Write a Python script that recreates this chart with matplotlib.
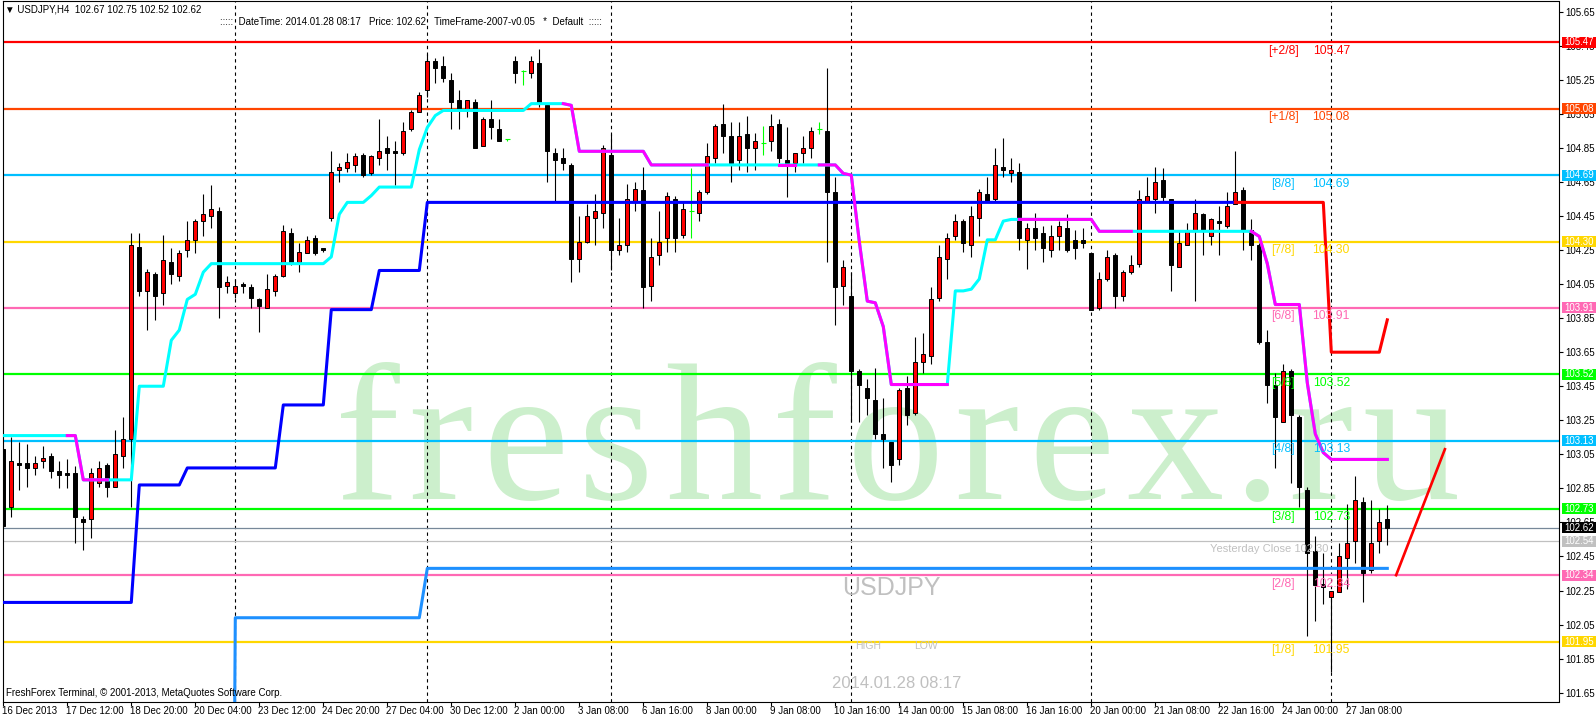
import numpy as np
import matplotlib
matplotlib.use('Agg')
import matplotlib.pyplot as plt
import matplotlib.transforms as mtransforms
from matplotlib.patches import Rectangle
from matplotlib.font_manager import FontProperties

plt.rcParams['font.family'] = ['Liberation Sans', 'DejaVu Sans']

# ---------------- data ----------------
opens = [103.08, 102.74, 103.00, 103.00, 102.97, 103.01, 103.04, 102.95, 102.94, 102.94,
         102.67, 102.67, 102.88, 102.99, 102.86, 103.04, 103.14, 104.27, 104.01, 104.11,
         104.00, 104.18, 104.10, 104.25, 104.31, 104.42, 104.45, 104.48, 104.04, 104.00,
         104.05, 104.03, 103.96, 103.91, 104.01, 104.10, 104.35, 104.18, 104.23, 104.32,
         104.26, 104.44, 104.72, 104.73, 104.75, 104.81, 104.70, 104.79, 104.85, 104.83,
         104.82, 104.96, 105.06, 105.19, 105.36, 105.33, 105.25, 105.13, 105.08, 105.12,
         104.86, 105.02, 104.96, 104.90, 105.36, 105.30, 105.29, 105.35, 105.10, 104.82,
         104.79, 104.75, 104.20, 104.30, 104.44, 104.47, 104.81, 104.25, 104.28, 104.53,
         104.60, 104.04, 104.22, 104.32, 104.55, 104.34, 104.48, 104.47, 104.59, 104.79,
         104.99, 104.92, 104.78, 104.93, 104.85, 104.88, 104.89, 104.99, 104.78, 104.76,
         104.82, 104.85, 104.96, 104.95, 104.59, 104.04, 103.98, 103.54, 103.44, 103.37,
         103.17, 103.12, 103.02, 103.44, 103.29, 103.59, 103.63, 103.97, 104.20, 104.33,
         104.42, 104.28, 104.44, 104.58, 104.55, 104.74, 104.70, 104.71, 104.31, 104.38,
         104.35, 104.25, 104.33, 104.38, 104.31, 104.31, 104.23, 103.91, 104.08, 104.22,
         103.98, 104.12, 104.17, 104.54, 104.55, 104.66, 104.55, 104.15, 104.28, 104.36,
         104.46, 104.33, 104.42, 104.39, 104.52, 104.60, 104.37, 104.28, 103.71, 103.46,
         103.24, 103.54, 103.27, 102.84, 102.48, 102.29, 102.21, 102.24, 102.44, 102.54,
         102.77, 102.37, 102.54, 102.67]
highs = [103.08, 103.15, 103.12, 103.11, 103.04, 103.10, 103.06, 103.01, 103.02, 102.98,
         102.69, 102.97, 103.01, 103.00, 103.19, 103.27, 104.35, 104.35, 104.14, 104.12,
         104.34, 104.26, 104.25, 104.42, 104.43, 104.58, 104.63, 104.50, 104.10, 104.08,
         104.06, 104.05, 103.97, 104.11, 104.11, 104.40, 104.38, 104.29, 104.33, 104.34,
         104.26, 104.83, 104.76, 104.82, 104.82, 104.82, 104.81, 105.02, 104.92, 104.89,
         105.00, 105.07, 105.18, 105.40, 105.38, 105.39, 105.29, 105.19, 105.13, 105.14,
         105.03, 105.13, 105.02, 104.90, 105.39, 105.31, 105.39, 105.43, 105.10, 104.85,
         104.85, 104.76, 104.45, 104.52, 104.58, 104.87, 104.93, 104.44, 104.64, 104.65,
         104.74, 104.32, 104.48, 104.59, 104.57, 104.54, 104.73, 104.60, 104.88, 104.99,
         105.11, 105.00, 105.00, 105.04, 104.94, 104.98, 105.05, 105.02, 104.97, 104.82,
         104.92, 104.97, 105.00, 105.32, 104.68, 104.19, 104.12, 103.55, 103.49, 103.56,
         103.38, 103.12, 103.44, 103.51, 103.74, 103.76, 104.03, 104.28, 104.35, 104.46,
         104.43, 104.51, 104.61, 104.68, 104.85, 104.91, 104.79, 104.76, 104.41, 104.47,
         104.39, 104.40, 104.42, 104.46, 104.37, 104.38, 104.23, 104.12, 104.25, 104.23,
         104.13, 104.22, 104.60, 104.68, 104.74, 104.73, 104.55, 104.37, 104.41, 104.55,
         104.47, 104.44, 104.51, 104.59, 104.83, 104.62, 104.43, 104.29, 103.78, 103.53,
         103.58, 103.55, 103.28, 102.86, 102.57, 102.47, 102.25, 102.53, 102.76, 102.92,
         102.80, 102.78, 102.73, 102.75]
lows = [102.62, 102.68, 102.84, 102.86, 102.93, 102.97, 102.91, 102.85, 102.85, 102.53,
        102.49, 102.56, 102.86, 102.80, 102.86, 102.97, 102.74, 103.98, 103.78, 103.84,
        103.93, 104.05, 104.07, 104.21, 104.23, 104.33, 104.38, 103.85, 104.00, 103.97,
        104.00, 103.91, 103.77, 103.91, 103.98, 104.09, 104.16, 104.12, 104.23, 104.22,
        104.24, 104.42, 104.65, 104.71, 104.71, 104.68, 104.69, 104.75, 104.72, 104.63,
        104.81, 104.95, 105.06, 105.15, 105.23, 105.24, 104.96, 104.96, 105.03, 104.85,
        104.86, 104.90, 104.89, 104.89, 105.23, 105.22, 105.26, 105.09, 104.65, 104.54,
        104.72, 104.06, 104.12, 104.29, 104.28, 104.38, 104.13, 104.22, 104.24, 104.48,
        103.91, 103.95, 104.16, 104.24, 104.24, 104.32, 104.32, 104.42, 104.58, 104.76,
        104.82, 104.65, 104.72, 104.71, 104.72, 104.81, 104.83, 104.76, 104.56, 104.71,
        104.76, 104.79, 104.93, 104.18, 103.81, 103.93, 103.24, 103.24, 103.28, 103.14,
        102.97, 102.89, 102.99, 103.22, 103.28, 103.53, 103.58, 103.95, 104.08, 104.31,
        104.24, 104.21, 104.33, 104.54, 104.54, 104.68, 104.65, 104.25, 104.14, 104.25,
        104.18, 104.21, 104.25, 104.24, 104.20, 104.26, 103.90, 103.90, 104.07, 103.91,
        103.95, 104.11, 104.15, 104.54, 104.47, 104.53, 104.01, 104.15, 104.28, 103.95,
        104.22, 104.28, 104.22, 104.38, 104.52, 104.25, 104.19, 103.70, 103.35, 102.97,
        103.24, 102.88, 102.74, 101.98, 102.07, 102.17, 101.77, 102.24, 102.26, 102.41,
        102.18, 102.35, 102.47, 102.52]
closes = [102.63, 103.01, 102.99, 102.97, 103.00, 103.03, 102.95, 102.93, 102.93, 102.68,
          102.65, 102.94, 102.97, 102.86, 103.05, 103.14, 104.28, 104.01, 104.12, 103.98,
          104.19, 104.11, 104.23, 104.31, 104.42, 104.46, 104.49, 104.03, 104.06, 104.04,
          104.04, 103.97, 103.92, 104.02, 104.10, 104.36, 104.18, 104.24, 104.31, 104.23,
          104.25, 104.71, 104.74, 104.77, 104.80, 104.69, 104.80, 104.83, 104.82, 104.82,
          104.95, 105.06, 105.16, 105.36, 105.32, 105.26, 105.12, 105.08, 105.13, 104.85,
          105.02, 104.97, 104.89, 104.90, 105.29, 105.30, 105.36, 105.11, 104.83, 104.78,
          104.76, 104.20, 104.30, 104.45, 104.48, 104.85, 104.25, 104.28, 104.55, 104.61,
          104.03, 104.21, 104.30, 104.57, 104.32, 104.49, 104.48, 104.59, 104.80, 104.98,
          104.92, 104.76, 104.92, 104.85, 104.89, 104.88, 104.98, 104.79, 104.76, 104.82,
          104.85, 104.95, 104.96, 104.59, 104.03, 104.15, 103.54, 103.46, 103.38, 103.17,
          103.14, 102.99, 103.43, 103.28, 103.59, 103.64, 103.96, 104.21, 104.32, 104.42,
          104.29, 104.45, 104.59, 104.54, 104.75, 104.72, 104.72, 104.32, 104.38, 104.32,
          104.26, 104.33, 104.39, 104.25, 104.26, 104.29, 103.90, 104.08, 104.21, 103.98,
          104.12, 104.16, 104.55, 104.57, 104.65, 104.56, 104.16, 104.29, 104.37, 104.47,
          104.36, 104.43, 104.41, 104.51, 104.59, 104.37, 104.28, 103.71, 103.46, 103.27,
          103.54, 103.28, 102.86, 102.47, 102.28, 102.27, 102.25, 102.45, 102.53, 102.78,
          102.35, 102.53, 102.65, 102.62]

# smoothed trend line (cyan up / magenta down), one value per bar
trend_fast = ([103.16] * 10 + [102.90] * 7 + [103.45] * 4 +
              [103.72, 103.78, 103.96, 103.99, 104.12] + [104.17] * 15 +
              [104.21, 104.46] + [104.53] * 3 + [104.57] + [104.62] * 5 +
              [104.84, 104.97, 105.04] + [105.07] * 11 + [105.11] * 5 + [105.10] +
              [104.83] * 9 + [104.75] * 24 + [104.70, 104.69, 104.30, 103.95, 103.94, 103.80] +
              [103.46] * 8 + [104.01, 104.01, 104.02, 104.08, 104.31, 104.31, 104.42] +
              [104.43] * 11 + [104.36] * 20 + [104.33, 104.17] + [103.93] * 4 +
              [103.47, 103.17, 103.06] + [103.02] * 8)
# segments drawn magenta (start bar, end bar); the rest cyan
fast_down = [(8, 13), (70, 88), (97, 99), (102, 118), (127, 141), (156, 173)]

# slow trend line: blue while rising, red after the turn
trend_slow_up = ([102.18] * 17 + [102.87] * 6 + [102.97] * 12 + [103.34] * 6 +
                 [103.90] * 6 + [104.13] * 6 + [104.53] * 102)
slow_turn = 154
trend_slow_down = [104.53] * 12 + [103.65] * 7 + [103.84]

# support line (dodger blue)
support_start = 28
support_line = [95.0] + [102.09] * 24 + [102.38] * 121

# projection line at the right
proj_bars = [174.1, 180.2]
proj_prices = [102.34, 103.08]

# Murrey math levels
mm_levels = [105.47, 105.08, 104.69, 104.30, 103.91, 103.52, 103.13, 102.73, 102.34, 101.95]
mm_names = ['[+2/8]', '[+1/8]', '[8/8]', '[7/8]', '[6/8]', '[5/8]', '[4/8]', '[3/8]', '[2/8]', '[1/8]']
mm_colors = ['#FF0000', '#FF4500', '#00BFFF', '#FFD700', '#FF69B4', '#00FF00',
             '#00BFFF', '#00FF00', '#FF69B4', '#FFD700']

bid_price = 102.62
day_open = 102.54
yesterday_close = 102.30

separator_bars = [29, 53, 76, 106, 136, 166]

xtick_labels = ['16 Dec 2013', '17 Dec 12:00', '18 Dec 20:00', '20 Dec 04:00', '23 Dec 12:00',
                '24 Dec 20:00', '27 Dec 04:00', '30 Dec 12:00', '2 Jan 00:00', '3 Jan 08:00',
                '6 Jan 16:00', '8 Jan 00:00', '9 Jan 08:00', '10 Jan 16:00', '14 Jan 00:00',
                '15 Jan 08:00', '16 Jan 16:00', '20 Jan 00:00', '21 Jan 08:00', '22 Jan 16:00',
                '24 Jan 00:00', '27 Jan 08:00']
ytick_values = [101.65, 101.85, 102.05, 102.25, 102.45, 102.65, 102.85, 103.05, 103.25,
                103.45, 103.65, 103.85, 104.05, 104.25, 104.45, 104.65, 104.85, 105.05,
                105.25, 105.45, 105.65]

watermark = 'freshforex.ru'

# ---------------- figure ----------------
W, H = 1596, 720
fig = plt.figure(figsize=(W / 100, H / 100), dpi=100, facecolor='white')
ax = fig.add_axes([2.5 / W, (H - 702) / H, (1558.5 - 2.5) / W, (702 - 1) / H])
ax.set_facecolor('white')
ax.set_xlim(-0.1, 194.4)
ax.set_ylim(101.595, 105.713)

n = len(opens)
x = np.arange(n)
o = np.array(opens); h = np.array(highs); l = np.array(lows); c = np.array(closes)

# watermark: letters spread to match the reference's wide lettering
renderer = fig.canvas.get_renderer()
wm_fp = FontProperties(family='Liberation Serif', size=140)
def _tw(s):
    return renderer.get_text_width_height_descent(s, wm_fp, ismath=False)[0] if s else 0.0
wm_nat = _tw(watermark)
wm_left_px, wm_width_px = 331.0, 1135.0
stretch = wm_width_px / wm_nat
for k, ch in enumerate(watermark):
    cx_px = wm_left_px + stretch * (_tw(watermark[:k]) + _tw(ch) / 2.0)
    ax.text((cx_px - 3.3) / 8.0, 102.785, ch, fontproperties=wm_fp, color='#CCEFCC',
            ha='center', va='baseline', zorder=0)

# separators
for b in separator_bars:
    ax.axvline(b, color='black', lw=0.8, ls=(0, (3, 3)), zorder=1)

# grey lines
ax.axhline(bid_price, color='#778899', lw=0.9, zorder=1.5)
ax.axhline(day_open, color='#C0C0C0', lw=0.9, zorder=1.5)

# Murrey lines + labels
for lev, name, col in zip(mm_levels, mm_names, mm_colors):
    ax.axhline(lev, color=col, lw=1.6, zorder=1.6)
    ax.text(160, lev - 0.05, name, color=col, fontsize=8.8, ha='center', va='center', zorder=5)
    ax.text(166, lev - 0.05, f'{lev:.2f}', color=col, fontsize=8.8, ha='center', va='center', zorder=5)

ax.text(165.6, 102.494, f'Yesterday Close {yesterday_close:.2f}', color='#C0C0C0',
        fontsize=8, ha='right', va='center', zorder=5)

# candles
doji = np.isclose(o, c)
up = (c > o) & ~doji
dn = (c < o) & ~doji
ax.vlines(x[~doji], l[~doji], h[~doji], color='black', lw=0.8, zorder=3)
ax.vlines(x[doji], l[doji], h[doji], color='#00FF00', lw=0.8, zorder=3)
ax.hlines(o[doji], x[doji] - 0.3, x[doji] + 0.3, color='#00FF00', lw=0.8, zorder=3)
ax.bar(x[up], (c - o)[up], bottom=o[up], width=0.5, color='#FF0000', edgecolor='black',
       linewidth=0.7, zorder=3.2)
ax.bar(x[dn], (o - c)[dn], bottom=c[dn], width=0.5, color='black', edgecolor='black',
       linewidth=0.7, zorder=3.2)

# fast trend line
tf = np.array(trend_fast)
ax.plot(x, tf, color='#00FFFF', lw=2.2, zorder=4, solid_joinstyle='round')
for a, b in fast_down:
    ax.plot(x[a:b + 1], tf[a:b + 1], color='#FF00FF', lw=2.2, zorder=4.1, solid_joinstyle='round')

# slow trend line
su = np.array(trend_slow_up)
ax.plot(x[:slow_turn + 1], su, color='#0000FF', lw=2.2, zorder=4)
sd = np.array(trend_slow_down)
ax.plot(x[slow_turn:slow_turn + len(sd)], sd, color='#FF0000', lw=2.2, zorder=4)

# support line
sl = np.array(support_line)
ax.plot(x[support_start:support_start + len(sl)], sl, color='#1E90FF', lw=2.2, zorder=4)

# projection
ax.plot(proj_bars, proj_prices, color='#FF0000', lw=1.9, zorder=4)

# grey texts
ax.text(111.0, 102.262, 'USDJPY', color='#C0C0C0', fontsize=18, ha='center', va='center', zorder=5)
ax.text(108.1, 101.924, 'HIGH', color='#C0C0C0', fontsize=7.5, ha='center', va='center', zorder=5)
ax.text(115.3, 101.924, 'LOW', color='#C0C0C0', fontsize=7.5, ha='center', va='center', zorder=5)
ax.text(111.7, 101.701, '2014.01.28 08:17', color='#C0C0C0', fontsize=12, ha='center', va='center', zorder=5)

# axes styling
for sp in ax.spines.values():
    sp.set_color('black'); sp.set_linewidth(0.8)
ax.yaxis.tick_right()
ax.set_yticks(ytick_values)
ax.set_yticklabels([f'{v:.2f}' for v in ytick_values])
ax.tick_params(axis='y', direction='out', length=3, width=0.8, labelsize=7, pad=2, colors='black')
xt = np.arange(0, 8 * len(xtick_labels), 8)
ax.set_xticks(xt)
ax.set_xticklabels([])
ax.tick_params(axis='x', direction='out', length=3, width=0.8)
tr = mtransforms.blended_transform_factory(ax.transData, ax.transAxes)
for b, lab in zip(xt, xtick_labels):
    ax.text(b - 0.2, -0.0128, lab, transform=tr, fontsize=7, ha='left', va='center', clip_on=False)

# colored price boxes on the right axis
trb = mtransforms.blended_transform_factory(ax.transAxes, ax.transData)
box_prices = mm_levels + [bid_price, day_open]
box_colors = mm_colors + ['black', '#C0C0C0']
bh = 11 / 170.25
for p, col in zip(box_prices, box_colors):
    ax.add_patch(Rectangle((1.00225, p - bh / 2), 0.0225, bh, transform=trb, facecolor=col,
                           edgecolor='none', clip_on=False, zorder=6))
    ax.text(1.0035, p, f'{p:.2f}', transform=trb, color='white', fontsize=7, ha='left',
            va='center', clip_on=False, zorder=7)

# header / footer texts
fig.text(5 / W, 1 - 10 / H, '\u25bc USDJPY,H4  102.67 102.75 102.52 102.62', fontsize=7,
         va='center', ha='left')
fig.text(220 / W, 1 - 22 / H,
         ':::::  DateTime: 2014.01.28 08:17   Price: 102.62   TimeFrame-2007-v0.05   *  Default  :::::',
         fontsize=7, va='center', ha='left')
fig.text(6 / W, 1 - 693 / H, 'FreshForex Terminal, \u00a9 2001-2013, MetaQuotes Software Corp.',
         fontsize=7, va='center', ha='left')

fig.savefig('out.png', dpi=100, facecolor='white')
